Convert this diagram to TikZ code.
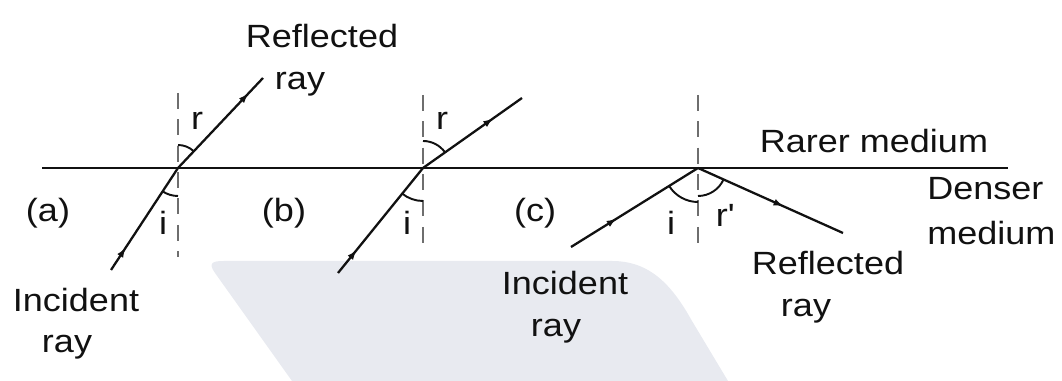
\documentclass[tikz,border=0pt]{standalone}
\usepackage{fontspec}
\setmainfont[FakeStretch=1.12]{Liberation Sans}
\usepackage{tikz}
\usetikzlibrary{arrows.meta,calc,decorations.markings}
\definecolor{Ink}{HTML}{111111}
\definecolor{Dash}{HTML}{6E6E6E}
\definecolor{Wm}{HTML}{E8EAF0}
\tikzset{
  >=Latex,
  iface/.style={line width=1.3pt,draw=Ink},
  nrm/.style={line width=1.2pt,draw=Dash,dash pattern=on 9 off 6},
  ray/.style={line width=1.3pt,draw=Ink,postaction={decorate},
    decoration={markings,mark=at position #1 with {\arrow{Latex[length=0.2cm,width=0.14cm]}}}},
  ang/.style={line width=1.1pt,draw=Ink},
  lab/.style={font=\fontsize{18.3}{21}\selectfont,text=Ink,inner sep=0pt,anchor=base}
}
\begin{document}
\begin{tikzpicture}[x=0.02cm,y=0.02cm]
  \useasboundingbox (0,0) rectangle (1062,381);
  % watermark patch behind (b) and (c)
  \fill[Wm] (292,0) -- (215,108) .. controls (208,118) and (212,120) .. (224,120)
    -- (612,120) .. controls (650,120) and (672,96) .. (692,60) -- (728,0) -- cycle;

  \coordinate (L) at (42,213);
  \coordinate (R) at (1008,213);
  \draw[iface] (L) -- (R);

  % (a)
  \coordinate (Oa) at (178,213);
  \coordinate (Na) at (178,288);
  \coordinate (Sa) at (178,124);
  \coordinate (Ia) at (111,111);
  \coordinate (Ra) at (263,303);
  \draw[nrm] (Na) -- (Sa);
  \draw[ray=0.22] (Ia) -- (Oa);
  \draw[ray=0.83] (Oa) -- (Ra);
  \draw[ang] ($(Oa)+(90:23)$) arc[start angle=90,end angle=46.6,radius=23];
  \draw[ang] ($(Oa)+(236.7:28)$) arc[start angle=236.7,end angle=270,radius=28];

  % (b)
  \coordinate (Ob) at (423,213);
  \coordinate (Nb) at (423,286);
  \coordinate (Sb) at (423,136);
  \coordinate (Ib) at (338,108);
  \coordinate (Rb) at (522,283);
  \draw[nrm] (Nb) -- (Sb);
  \draw[ray=0.22] (Ib) -- (Ob);
  \draw[ray=0.71] (Ob) -- (Rb);
  \draw[ang] ($(Ob)+(90:27)$) arc[start angle=90,end angle=35.3,radius=27];
  \draw[ang] ($(Ob)+(231:33)$) arc[start angle=231,end angle=270,radius=33];

  % (c)
  \coordinate (Oc) at (698,213);
  \coordinate (Nc) at (698,286);
  \coordinate (Sc) at (698,136);
  \coordinate (Ic) at (571,134);
  \coordinate (Rc) at (843,148);
  \draw[nrm] (Nc) -- (Sc);
  \draw[ray=0.36] (Ic) -- (Oc);
  \draw[ray=0.59] (Oc) -- (Rc);
  \draw[ang] ($(Oc)+(211.9:34)$) arc[start angle=211.9,end angle=270,radius=34];
  \draw[ang] ($(Oc)+(270:28)$) arc[start angle=270,end angle=335.9,radius=28];

  % labels
  \node[lab] (refa) at (322,333) {Reflected};
  \node[lab] (refa2) at (300,291) {ray};
  \node[lab] (ra) at (197,251) {r};
  \node[lab] (ia) at (163,146) {i};
  \node[lab] (capa) at (48,159) {(a)};
  \node[lab] (inca) at (76,69) {Incident};
  \node[lab] (inca2) at (67,28) {ray};

  \node[lab] (capb) at (284,159) {(b)};
  \node[lab] (rb) at (442,251) {r};
  \node[lab] (ib) at (407,146) {i};

  \node[lab] (capc) at (535,159) {(c)};
  \node[lab] (ic) at (671,146) {i};
  \node[lab] (rc) at (725,154) {r\textquotesingle};
  \node[lab] (rarer) at (874,228) {Rarer medium};
  \node[lab,anchor=base west] (dens) at (927,181) {Denser};
  \node[lab,anchor=base west] (dens2) at (927,136) {medium};
  \node[lab] (incc) at (565,86) {Incident};
  \node[lab] (incc2) at (556,44) {ray};
  \node[lab] (refc) at (828,106) {Reflected};
  \node[lab] (refc2) at (806,64) {ray};
\end{tikzpicture}
\end{document}
